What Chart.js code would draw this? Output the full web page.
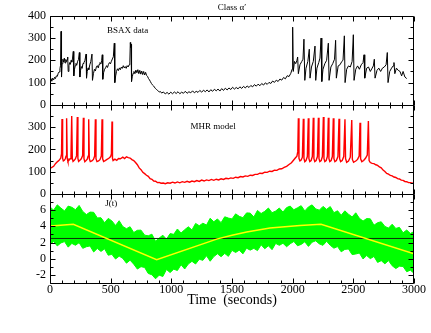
<!DOCTYPE html>
<html>
<head>
<meta charset="utf-8">
<script src="https://cdn.jsdelivr.net/npm/chart.js@4"></script>
<style>
  html, body { margin: 0; padding: 0; background: #fff; }
  canvas { display: block; }
</style>
</head>
<body>
<canvas id="c" width="431" height="333"></canvas>
<script>
// ---------- data ----------
const chartTitle = 'Class α′';
const timeTickLabels = [0, 500, 1000, 1500, 2000, 2500, 3000];
const bsaxTickLabels = [0, 100, 200, 300, 400];
const mhrTickLabels = [0, 100, 200, 300];
const jTickLabels = [-2, 0, 2, 4, 6];

// BSAX data (panel 1): [time s, count rate]
const bsax = [
[0,110],[8,118],[15,106],[22,120],[30,112],[38,124],[45,118],[52,130],[60,128],[68,142],[75,148],[82,162],[87,178],[91,330],[95,125],
[100,185],[106,205],[112,192],[118,210],[124,188],[130,204],[136,194],[142,204],[146,215],[150,150],[156,176],[162,190],[168,182],[174,200],
[180,192],[186,210],[192,240],[196,130],[202,160],[208,176],[214,186],[220,178],[228,196],[235,204],[242,235],[246,125],[252,155],[258,172],
[265,164],[272,186],[280,190],[288,200],[297,228],[301,120],[307,150],[314,166],[320,158],[328,180],[336,194],[346,228],[350,110],[358,140],
[366,160],[374,152],[382,170],[390,176],[398,166],[405,182],[412,190],[420,184],[426,200],[431,225],[435,115],[442,145],[450,160],[458,166],
[466,176],[474,168],[482,182],[490,190],[498,184],[506,196],[514,206],[522,216],[530,277],[534,100],[541,130],[548,150],[556,162],[564,154],
[572,166],[580,158],[588,170],[596,164],[604,176],[612,166],[620,172],[628,164],[636,176],[644,170],[652,180],[658,192],[662,280],[665,258],
[668,272],[672,105],[678,126],[685,142],[692,150],[700,140],[708,156],[716,144],[724,158],[732,140],[740,155],[748,138],[756,152],[764,136],
[772,150],[780,134],[788,146],[796,132],[804,128],[812,118],[820,112],[828,104],[836,96],[844,90],[852,86],[860,80],[868,74],[876,70],
[884,66],[892,62],[900,58],[910,60],[920,53],[935,58],[950,49],[965,56],[980,48],[995,57],[1010,50],[1025,58],[1040,51],[1055,59],
[1070,50],[1085,57],[1100,52],[1115,61],[1130,52],[1145,59],[1160,54],[1175,63],[1190,54],[1205,61],[1220,56],[1235,65],[1250,57],
[1265,66],[1280,59],[1295,67],[1310,58],[1325,68],[1340,61],[1355,70],[1370,63],[1385,71],[1400,62],[1415,73],[1430,65],[1445,75],
[1460,67],[1475,76],[1490,69],[1505,79],[1520,71],[1535,78],[1550,72],[1565,81],[1580,74],[1595,83],[1610,76],[1625,85],[1640,78],
[1655,87],[1670,81],[1685,91],[1700,84],[1715,93],[1730,86],[1745,96],[1760,89],[1775,99],[1790,92],[1805,101],[1820,96],[1835,107],
[1850,101],[1865,111],[1880,105],[1895,116],[1910,111],[1925,123],[1940,117],[1955,131],[1970,127],[1985,142],[1995,160],[2000,349],
[2005,150],[2015,195],[2025,185],[2035,200],[2041,215],[2047,140],[2060,180],[2075,195],[2085,205],[2093,295],[2100,110],[2110,165],
[2125,195],[2137,250],[2143,120],[2155,170],[2170,195],[2184,264],[2190,110],[2200,165],[2215,190],[2225,210],[2234,300],[2240,105],
[2250,160],[2265,185],[2280,200],[2294,277],[2300,110],[2315,170],[2330,185],[2345,205],[2354,290],[2360,120],[2375,175],[2390,180],
[2405,195],[2415,200],[2426,310],[2432,100],[2445,160],[2460,175],[2475,170],[2490,195],[2500,315],[2506,110],[2520,160],[2535,175],
[2550,160],[2565,180],[2580,190],[2588,225],[2594,120],[2610,165],[2625,170],[2640,150],[2655,165],[2665,175],[2673,205],[2679,120],
[2695,155],[2710,165],[2725,150],[2740,165],[2755,170],[2770,180],[2780,235],[2786,100],[2800,150],[2815,165],[2828,175],[2835,190],
[2842,140],[2855,165],[2870,155],[2885,150],[2898,130],[2910,150],[2925,125],[2940,118]
];

// MHR model (panel 2)
const mhr = [
[0,115],[15,119],[30,124],[45,136],[60,144],[75,151],[88,160],[95,180],[99,336],[104,160],[110,148],[118,151],[126,158],[132,170],[137,340],
[142,160],[148,146],[156,151],[165,158],[173,172],[179,350],[184,160],[190,146],[200,151],[210,158],[219,172],[225,345],[230,160],[236,146],
[246,151],[258,158],[269,172],[275,342],[280,158],[287,145],[297,150],[307,156],[314,170],[319,335],[324,158],[332,145],[345,148],[358,155],
[368,170],[374,335],[379,158],[387,145],[400,148],[412,154],[423,170],[429,335],[434,158],[442,146],[455,150],[470,155],[485,160],[500,168],
[506,180],[511,325],[515,160],[520,150],[535,156],[550,151],[565,159],[580,158],[600,165],[615,159],[630,167],[645,163],[660,161],[675,154],
[690,150],[705,141],[720,131],[735,117],[750,109],[765,97],[780,91],[795,84],[810,79],[825,69],[840,66],[855,58],[870,57],[885,51],[900,52],
[915,48],[934,49],[950,46],[970,50],[990,48],[1010,53],[1030,49],[1050,54],[1070,50],[1090,55],[1110,52],[1130,57],[1150,53],[1170,58],
[1190,55],[1210,60],[1230,56],[1250,62],[1270,58],[1290,63],[1310,60],[1330,65],[1350,61],[1370,66],[1390,63],[1410,68],[1430,65],
[1450,70],[1470,68],[1490,72],[1510,70],[1530,75],[1550,73],[1570,78],[1590,76],[1610,81],[1630,79],[1650,84],[1670,83],[1690,88],
[1710,88],[1730,93],[1750,92],[1770,98],[1790,97],[1810,102],[1830,101],[1850,107],[1870,106],[1890,112],[1910,113],[1930,119],
[1950,124],[1970,132],[1990,140],[2005,150],[2020,160],[2035,170],[2042,190],[2047,340],[2052,160],[2060,148],[2070,152],[2080,165],
[2088,338],[2093,160],[2100,145],[2110,150],[2121,168],[2129,340],[2134,158],[2141,145],[2152,150],[2162,168],[2170,342],[2175,158],
[2182,145],[2193,150],[2204,168],[2212,342],[2217,158],[2224,145],[2235,150],[2245,168],[2253,345],[2258,158],[2265,145],[2276,150],
[2286,168],[2294,342],[2299,158],[2306,145],[2317,150],[2327,168],[2335,340],[2340,158],[2348,145],[2360,150],[2373,168],[2382,338],
[2387,158],[2395,145],[2408,150],[2421,168],[2431,335],[2436,158],[2445,142],[2460,148],[2475,165],[2487,332],[2492,155],[2502,142],
[2520,148],[2535,155],[2548,170],[2555,320],[2560,158],[2570,145],[2585,150],[2600,160],[2615,175],[2624,328],[2630,150],[2640,141],
[2655,137],[2670,136],[2685,131],[2700,128],[2715,121],[2730,117],[2745,107],[2760,101],[2775,92],[2790,89],[2805,83],[2820,81],
[2835,76],[2850,74],[2865,69],[2880,67],[2895,62],[2910,61],[2925,56],[2940,55],[2955,51],[2970,51],[2985,48],[3000,49]
];

// J(t) panel: sampling times, upper and lower extent of the fast (green) signal
const jTime = [0,30,60,90,120,150,180,210,240,270,300,330,360,390,420,450,480,510,540,570,600,630,660,690,720,750,780,810,840,870,
900,930,960,990,1020,1050,1080,1110,1140,1170,1200,1230,1260,1290,1320,1350,1380,1410,1440,1470,1500,1530,1560,1590,1620,1650,1680,
1710,1740,1770,1800,1830,1860,1890,1920,1950,1980,2010,2040,2070,2100,2130,2160,2190,2220,2250,2280,2310,2340,2370,2400,2430,2460,
2490,2520,2550,2580,2610,2640,2670,2700,2730,2760,2790,2820,2850,2880,2910,2940,2970,3000];
const jUpper = [6.4,6.0,6.65,6.25,5.9,6.5,6.35,6.05,6.58,5.84,5.45,5.76,5.73,5.04,5.06,4.44,4.98,4.67,4.1,4.69,
3.97,3.71,3.95,3.23,3.51,3.53,2.91,2.83,3.03,2.16,2.55,2.9,2.4,3.1,3.01,3.67,3.17,3.58,3.94,3.55,
4.36,4.07,4.39,4.15,5.0,4.56,4.91,4.45,5.18,5.02,4.91,5.54,5.23,5.07,5.66,5.63,5.15,5.96,5.58,5.85,
6.26,5.68,5.89,6.26,5.76,6.31,6.5,6.05,6.29,6.55,5.9,6.4,6.65,6.15,6.0,6.46,6.1,6.44,5.68,5.92,
5.37,5.91,5.5,5.16,5.67,4.99,4.65,4.96,4.92,4.14,4.45,4.56,3.99,3.78,4.26,3.74,3.87,3.2,3.54,3.12,3.35];
const jLower = [1.8,2.12,1.58,1.95,2.11,1.43,1.89,1.66,1.98,1.28,1.48,1.58,0.83,1.27,0.9,1.22,0.43,0.54,-0.04,0.32,
0.04,-0.55,-0.18,-0.67,-1.28,-0.98,-1.08,-1.83,-1.98,-2.48,-2.03,-2.2,-1.33,-1.71,-1.29,-1.46,-0.74,-1.27,-0.65,-0.32,
-0.65,-0.07,-0.2,0.37,-0.31,0.26,0.61,0.25,0.65,0.29,1.03,0.77,1.06,0.6,1.3,1.06,1.28,1.0,1.72,1.23,
1.6,1.12,1.89,1.65,1.91,1.48,1.85,2.13,1.6,1.77,2.09,1.52,2.04,2.21,1.83,1.65,2.15,1.65,1.3,1.5,
0.85,1.15,1.2,0.51,0.58,0.7,-0.03,0.39,0.01,0.28,-0.46,-0.24,-0.63,-0.23,-0.87,-1.22,-0.92,-0.96,-1.61,-1.41,-1.8];
// slow drive (yellow) and constant level (dark line)
const jSmooth = [[0,4.05],[60,4.1],[192,4.25],[879,-0.12],[1380,2.45],[1500,2.9],[1621,3.3],[1813,3.8],[2060,4.1],[2234,4.25],[3000,0.6]];
const jLevel = [[0,2.5],[3000,2.5]];

// ---------- chart ----------
const toXY = arr => arr.map(([x, y]) => ({x, y}));
const serif = 'Liberation Serif, Times New Roman, serif';
const setTicks = list => scale => { scale.ticks = list.map(v => ({value: v})); };

const panelFrames = {
  id: 'panelFrames',
  afterDatasetsDraw(chart, args, opts) {
    const {ctx, chartArea: ca, scales} = chart;
    const xs = scales.x;
    ctx.save();
    ctx.strokeStyle = '#000';
    ctx.lineWidth = 1;
    const L = Math.round(ca.left) + 0.5, R = Math.round(ca.right) - 0.5;
    opts.panels.forEach(p => {
      const ys = scales[p.id];
      const T = Math.round(ys.top) + 0.5, B = Math.round(ys.bottom) + 0.5;
      ctx.beginPath();
      ctx.rect(L, T, R - L, B - T);
      for (let i = 0; ys.min + i * p.minor <= ys.max + 1e-9; i++) {
        const v = ys.min + i * p.minor;
        const major = Math.abs(v / p.major - Math.round(v / p.major)) < 1e-6;
        const len = major ? 5 : 3;
        const y = Math.round(ys.getPixelForValue(v)) + 0.5;
        ctx.moveTo(L, y); ctx.lineTo(L + len, y);
        ctx.moveTo(R, y); ctx.lineTo(R - len, y);
      }
      for (let t = xs.min; t <= xs.max; t += opts.xMinor) {
        const len = (t % opts.xMajor === 0) ? 5 : 3;
        const x = Math.round(xs.getPixelForValue(t)) + 0.5;
        ctx.moveTo(x, T); ctx.lineTo(x, T + len);
        ctx.moveTo(x, B); ctx.lineTo(x, B - len);
      }
      ctx.stroke();
    });
    ctx.fillStyle = '#000';
    ctx.font = '9px ' + serif;
    ctx.textAlign = 'center';
    ctx.textBaseline = 'middle';
    opts.notes.forEach(n => {
      ctx.fillText(n.text, xs.getPixelForValue(n.x), scales[n.axis].getPixelForValue(n.y));
    });
    ctx.restore();
  }
};

const tickFont = {family: serif, size: 12};
const yBase = {
  type: 'linear', position: 'left', stack: 'panels', stackWeight: 1,
  grid: {display: false, drawTicks: false}, border: {display: false},
  ticks: {font: tickFont, color: '#000', padding: 4, autoSkip: false, callback: v => String(v)},
  afterFit: s => { s.width = 50; }
};

new Chart(document.getElementById('c'), {
  type: 'line',
  data: {
    datasets: [
      {label: 'BSAX data', data: toXY(bsax), yAxisID: 'y1', borderColor: '#000', borderWidth: 1, pointRadius: 0, order: 0},
      {label: 'MHR model', data: toXY(mhr), yAxisID: 'y2', borderColor: '#ff0000', borderWidth: 1.4, pointRadius: 0, order: 0},
      {label: 'J(t) slow', data: toXY(jSmooth), yAxisID: 'y3', borderColor: '#ffff00', borderWidth: 1.5, pointRadius: 0, order: 1},
      {label: 'J level', data: toXY(jLevel), yAxisID: 'y3', borderColor: '#0b2e0b', borderWidth: 1, pointRadius: 0, order: 2},
      {label: 'J(t) upper', data: jTime.map((t, i) => ({x: t, y: jUpper[i]})), yAxisID: 'y3', borderColor: '#00ff00', borderWidth: 1, pointRadius: 0, fill: '+1', backgroundColor: '#00ff00', order: 3},
      {label: 'J(t) lower', data: jTime.map((t, i) => ({x: t, y: jLower[i]})), yAxisID: 'y3', borderColor: '#00ff00', borderWidth: 1, pointRadius: 0, order: 4}
    ]
  },
  options: {
    responsive: false,
    animation: false,
    devicePixelRatio: 1,
    layout: {padding: {left: 0, right: 17, top: 0, bottom: 0}},
    elements: {line: {tension: 0}},
    plugins: {
      legend: {display: false},
      tooltip: {enabled: false},
      title: {display: true, text: chartTitle, fullSize: false, color: '#000',
              font: {family: serif, size: 9, weight: 'normal'}, padding: {top: 2, bottom: 3}},
      panelFrames: {
        xMajor: 500, xMinor: 100,
        panels: [{id: 'y1', major: 100, minor: 50}, {id: 'y2', major: 100, minor: 50}, {id: 'y3', major: 2, minor: 1}],
        notes: [{text: 'BSAX data', axis: 'y1', x: 640, y: 333},
                {text: 'MHR model', axis: 'y2', x: 1345, y: 301},
                {text: 'J(t)', axis: 'y3', x: 505, y: 6.75}]
      }
    },
    scales: {
      x: {
        type: 'linear', position: 'bottom', min: 0, max: 3000,
        afterBuildTicks: setTicks(timeTickLabels),
        grid: {display: false, drawTicks: false}, border: {display: false},
        ticks: {font: tickFont, color: '#000', padding: 0, maxRotation: 0, autoSkip: false, callback: v => String(v)},
        title: {display: true, text: 'Time  (seconds)', color: '#000', font: {family: serif, size: 14}, padding: {top: 0, bottom: 24}},
        afterFit: s => { s.height = 50; }
      },
      y3: Object.assign({}, yBase, {min: -3, max: 8, afterBuildTicks: setTicks(jTickLabels)}),
      y2: Object.assign({}, yBase, {min: 0, max: 400, afterBuildTicks: setTicks(mhrTickLabels)}),
      y1: Object.assign({}, yBase, {min: 0, max: 400, afterBuildTicks: setTicks(bsaxTickLabels)})
    }
  },
  plugins: [panelFrames]
});
</script>
</body>
</html>
